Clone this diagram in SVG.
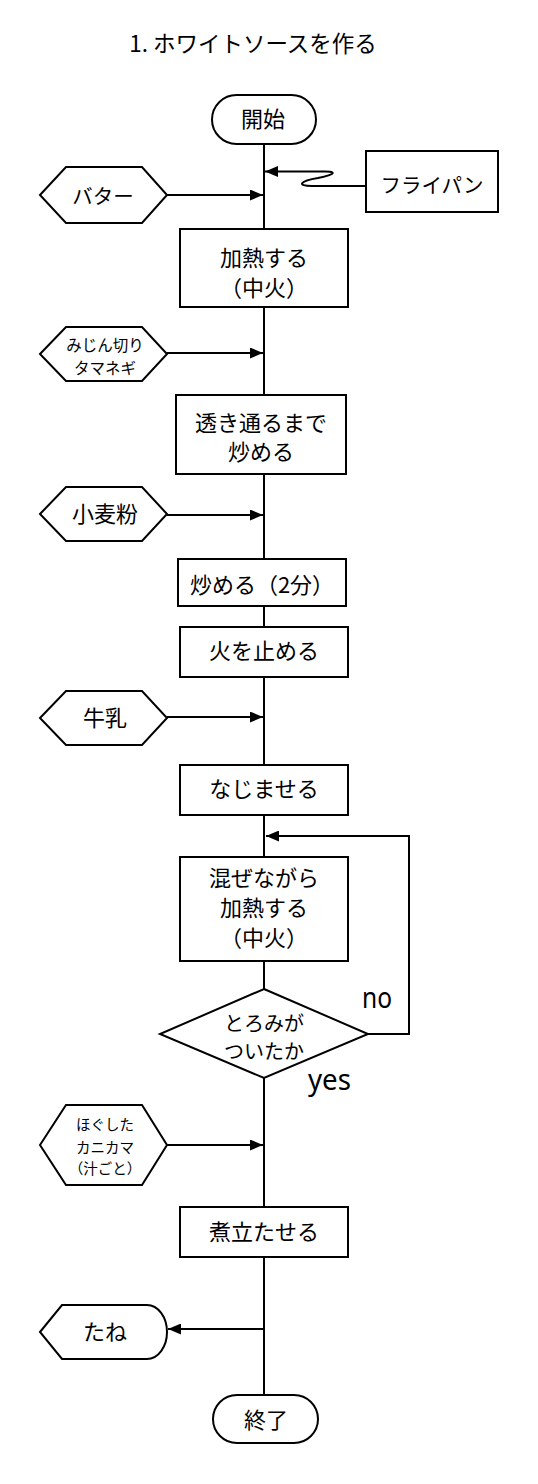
<svg xmlns="http://www.w3.org/2000/svg" width="538" height="1484" viewBox="0 0 538 1484">
<defs>
<style>
.s{fill:#fff;stroke:#000;stroke-width:2}
.ln{fill:none;stroke:#000;stroke-width:2}
.t{font-family:"Noto Sans CJK JP","Noto Sans",sans-serif;fill:#000;text-anchor:middle}
.b{font-size:22px}
.m{font-size:20.5px}
.d{font-size:20px}
.sm{font-size:15.5px}
.xs{font-size:14.5px}
.lat{font-family:"Noto Sans","DejaVu Sans",sans-serif;fill:#000;font-size:29px}
</style>
<marker id="ah" markerUnits="userSpaceOnUse" markerWidth="13" markerHeight="11" refX="13" refY="5.5" orient="auto">
<path d="M0,0 L13,5.5 L0,11 Z" fill="#000"/>
</marker>
</defs>
<rect width="538" height="1484" fill="#fff"/>
<text class="t" x="253" y="52" style="font-size:22.5px">1. ホワイトソースを作る</text>

<g id="connectors">
<path class="ln" d="M264,145 V229 M264,307 V395 M264,474 V559 M264,606 V627 M264,677 V765 M264,815 V857 M264,961 V989 M264,1078 V1207 M264,1257 V1395"/>
<line class="ln" x1="167" y1="195" x2="263" y2="195" marker-end="url(#ah)"/>
<path class="ln" d="M366,186 L312,186 C296,186 300,181 318,178 C338,174 336,171 322,171.5 L265,171.5" marker-end="url(#ah)"/>
<line class="ln" x1="167" y1="353" x2="263" y2="353" marker-end="url(#ah)"/>
<line class="ln" x1="167" y1="515" x2="263" y2="515" marker-end="url(#ah)"/>
<line class="ln" x1="167" y1="717" x2="263" y2="717" marker-end="url(#ah)"/>
<path class="ln" d="M368,1034 H409 V836 H266" marker-end="url(#ah)"/>
<line class="ln" x1="167" y1="1145" x2="263" y2="1145" marker-end="url(#ah)"/>
<line class="ln" x1="264" y1="1329" x2="168" y2="1329" marker-end="url(#ah)"/>
<text class="lat" x="377" y="1008" text-anchor="middle" textLength="30" lengthAdjust="spacingAndGlyphs">no</text>
<text class="lat" x="329.5" y="1090" text-anchor="middle" textLength="43" lengthAdjust="spacingAndGlyphs">yes</text>
</g>

<g id="start">
<rect class="s" x="212" y="95" width="104" height="49" rx="24.5"/>
<text class="t" x="263" y="127" style="font-size:22px">開始</text>
</g>
<g id="pan">
<rect class="s" x="366" y="151" width="132" height="61"/>
<text class="t m" x="432" y="193">フライパン</text>
</g>
<g id="butter">
<path class="s" d="M40,195 L66,167 L142,167 L167,195 L142,223 L66,223 Z"/>
<text class="t m" x="103" y="204">バター</text>
</g>
<g id="heat1">
<rect class="s" x="180" y="229" width="168" height="78"/>
<text class="t b" x="264" y="266">加熱する</text>
<text class="t b" x="264" y="296">（中火）</text>
</g>
<g id="onion">
<path class="s" d="M40,354 L66,327 L142,327 L167,354 L142,381 L66,381 Z"/>
<text class="t sm" x="105" y="351">みじん切り</text>
<text class="t sm" x="105" y="374">タマネギ</text>
</g>
<g id="saute1">
<rect class="s" x="176" y="395" width="170" height="79"/>
<text class="t b" x="261" y="431">透き通るまで</text>
<text class="t b" x="261" y="460">炒める</text>
</g>
<g id="flour">
<path class="s" d="M40,514 L66,487 L142,487 L167,514 L142,541 L66,541 Z"/>
<text class="t b" x="105" y="522">小麦粉</text>
</g>
<g id="saute2">
<rect class="s" x="178" y="559" width="168" height="47"/>
<text class="t b" x="262" y="593">炒める（2分）</text>
</g>
<g id="off">
<rect class="s" x="180" y="627" width="168" height="50"/>
<text class="t b" x="264" y="659">火を止める</text>
</g>
<g id="milk">
<path class="s" d="M40,718 L66,691 L142,691 L167,718 L142,745 L66,745 Z"/>
<text class="t b" x="105" y="726">牛乳</text>
</g>
<g id="blend">
<rect class="s" x="180" y="765" width="168" height="50"/>
<text class="t b" x="264" y="797">なじませる</text>
</g>
<g id="heat2">
<rect class="s" x="180" y="857" width="168" height="104"/>
<text class="t b" x="264" y="886">混ぜながら</text>
<text class="t b" x="264" y="916">加熱する</text>
<text class="t b" x="264" y="946">（中火）</text>
</g>
<g id="decision">
<path class="s" d="M264,989 L368,1034 L264,1078 L160,1034 Z"/>
<text class="t d" x="264" y="1030.5">とろみが</text>
<text class="t d" x="264" y="1058.5">ついたか</text>
</g>
<g id="crab">
<path class="s" d="M40,1145 L66,1105 L142,1105 L167,1145 L142,1185 L66,1185 Z"/>
<text class="t xs" x="105" y="1130">ほぐした</text>
<text class="t xs" x="105" y="1153">カニカマ</text>
<text class="t xs" x="105" y="1174">（汁ごと）</text>
</g>
<g id="boil">
<rect class="s" x="180" y="1207" width="168" height="50"/>
<text class="t b" x="264" y="1240">煮立たせる</text>
</g>
<g id="tane">
<path class="s" d="M40,1332 L62,1305 L147,1305 A20,27 0 0 1 147,1359 L62,1359 Z"/>
<text class="t b" x="105" y="1340">たね</text>
</g>
<g id="end">
<rect class="s" x="213" y="1395" width="105" height="48" rx="24"/>
<text class="t" x="266" y="1428" style="font-size:22px">終了</text>
</g>
</svg>
